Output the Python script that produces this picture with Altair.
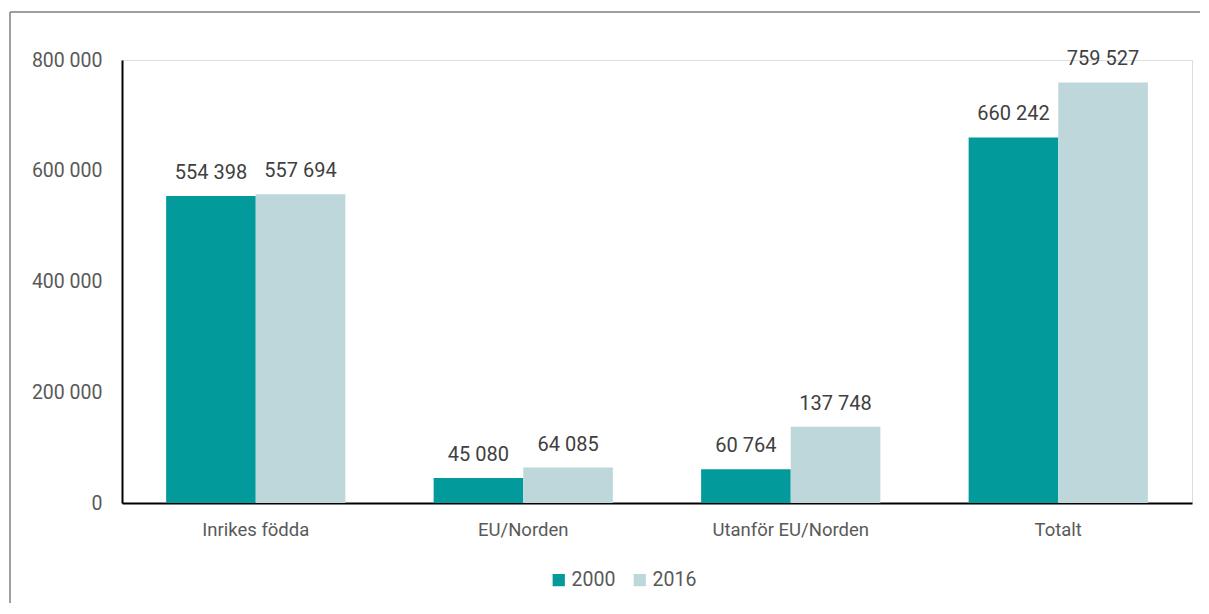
import altair as alt
import pandas as pd

categories = ["Inrikes födda", "EU/Norden", "Utanför EU/Norden", "Totalt"]
years = ["2000", "2016"]
values_2000 = [554398, 45080, 60764, 660242]
values_2016 = [557694, 64085, 137748, 759527]
y_ticks = [0, 200000, 400000, 600000, 800000]
colors = ["#029a9a", "#bed7db"]

rows = []
for c, a, b in zip(categories, values_2000, values_2016):
    rows.append({"kategori": c, "år": years[0], "värde": a})
    rows.append({"kategori": c, "år": years[1], "värde": b})
df = pd.DataFrame(rows)

FONT = "Roboto, Liberation Sans, sans-serif"
LABEL_EXPR = "replace(format(datum.value, ',d'), /,/g, ' ')"

x = alt.X(
    "kategori:N",
    sort=categories,
    scale=alt.Scale(paddingInner=0.33, paddingOuter=0.165),
    axis=alt.Axis(
        title=None, labelAngle=0, labelPadding=17, ticks=False,
        domainColor="black", domainWidth=2, labelFontSize=18.5,
        labelColor="#595959", labelFont=FONT,
    ),
)
y = alt.Y(
    "värde:Q",
    scale=alt.Scale(domain=[0, 800000], nice=False),
    axis=alt.Axis(
        title=None, values=y_ticks, grid=False, ticks=False,
        domainColor="black", domainWidth=2, labelPadding=20,
        labelFontSize=19.5, labelColor="#595959", labelFont=FONT,
        labelExpr=LABEL_EXPR,
    ),
)
xoff = alt.XOffset("år:N", sort=years, scale=alt.Scale(paddingInner=0, paddingOuter=0))
color = alt.Color(
    "år:N",
    sort=years,
    scale=alt.Scale(domain=years, range=colors),
    legend=alt.Legend(
        title=None, orient="none", direction="horizontal",
        legendX=427, legendY=510, symbolType="square", symbolSize=150,
        symbolStrokeWidth=0, labelFontSize=19.5, labelColor="#595959",
        labelFont=FONT, columnPadding=14, labelOffset=3,
    ),
)

base = alt.Chart(df)
bars = base.mark_bar().encode(x=x, xOffset=xoff, y=y, color=color)
texts = base.transform_calculate(
    etikett="replace(format(datum['värde'], ',d'), /,/g, ' ')"
).mark_text(
    baseline="bottom", dy=-13, fontSize=20, color="#404040", font=FONT
).encode(x=x, xOffset=xoff, y=y, text="etikett:N")

frame_df = pd.DataFrame({"k": [0]})
top_line = alt.Chart(frame_df).mark_rule(color="#7f7f7f", strokeWidth=1.5, clip=False).encode(
    x=alt.value(-112), x2=alt.value(1090), y=alt.value(-48)
)
left_line = alt.Chart(frame_df).mark_rule(color="#7f7f7f", strokeWidth=1.5, clip=False).encode(
    x=alt.value(-112), y=alt.value(-48), y2=alt.value(600)
)

chart = alt.layer(bars, texts, top_line, left_line).properties(
    width=1070,
    height=443,
    padding={"left": 114, "top": 52, "right": 8, "bottom": 100},
    autosize=alt.AutoSizeParams(type="none"),
).configure_view(stroke=None).configure(background="white")

chart.save("out.html", embed_options={"renderer": "svg", "actions": False})
